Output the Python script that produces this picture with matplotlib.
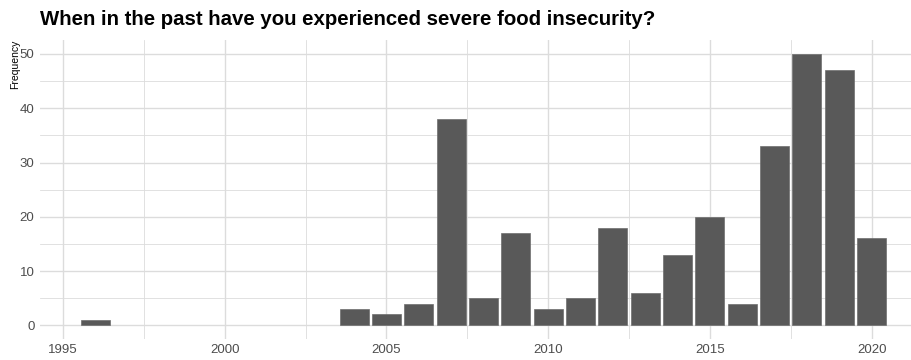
import matplotlib
matplotlib.use("Agg")
import matplotlib.pyplot as plt
from matplotlib.ticker import MultipleLocator

years = [1996, 2004, 2005, 2006, 2007, 2008, 2009, 2010, 2011, 2012,
         2013, 2014, 2015, 2016, 2017, 2018, 2019, 2020]
counts = [1, 3, 2, 4, 38, 5, 17, 3, 5, 18,
          6, 13, 20, 4, 33, 50, 47, 16]
x_ticks = [1995, 2000, 2005, 2010, 2015, 2020]
y_ticks = [0, 10, 20, 30, 40, 50]
title = "When in the past have you experienced severe food insecurity?"
y_label = "Frequency"

plt.rcParams["font.family"] = ["Liberation Sans", "DejaVu Sans"]

W, H = 912, 360
fig = plt.figure(figsize=(W / 100, H / 100), dpi=100)
ax = fig.add_axes([40 / W, 1 - 338.9 / H, 1 - 40 / W, (338.9 - 40.4) / H])

grid_col = "#DCDCDC"
ax.set_xlim(1994.29, 2021.25)
ax.set_ylim(-2.5, 52.5)
ax.set_xticks(x_ticks)
ax.set_yticks(y_ticks)
ax.xaxis.set_minor_locator(MultipleLocator(2.5))
ax.yaxis.set_minor_locator(MultipleLocator(5))
ax.grid(True, which="major", color=grid_col, linewidth=1.0)
ax.grid(True, which="minor", color=grid_col, linewidth=0.6)
ax.set_axisbelow(True)
for s in ax.spines.values():
    s.set_visible(False)
ax.tick_params(which="both", length=0)
ax.tick_params(axis="both", labelsize=9.5, labelcolor="#4D4D4D", pad=4)

ax.bar(years, counts, width=0.9, color="#595959", edgecolor="#6E6E6E",
       linewidth=0.5)

fig.text(15.5 / W, 1 - 40 / H, y_label, fontsize=7.5, rotation=90,
         ha="center", va="top", color="black")
fig.text(40 / W, 1 - 25 / H, title, fontsize=14.7, fontweight="bold",
         va="baseline", ha="left", color="black")

fig.savefig("out.png", dpi=100, facecolor="white")
